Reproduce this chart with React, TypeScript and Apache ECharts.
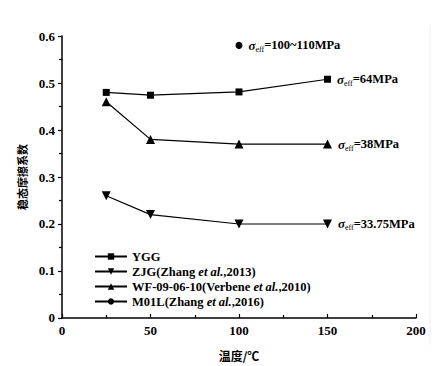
import React, { useEffect, useRef } from "react";
import * as echarts from "echarts";

const temps = [25, 50, 100, 150];
const ygg = [0.48, 0.474, 0.481, 0.508];
const zjg = [0.26, 0.22, 0.2, 0.2];
const wf = [0.46, 0.38, 0.37, 0.37];
const m01lTemp = [100];
const m01l = [0.58];

const seriesNames = [
  "YGG",
  "ZJG(Zhang et al.,2013)",
  "WF-09-06-10(Verbene et al.,2010)",
  "M01L(Zhang et al.,2016)",
];
const stressLabels = ["=64MPa", "=33.75MPa", "=38MPa", "=100~110MPa"];
const xTicks = [0, 50, 100, 150, 200];
const yTicks = [0, 0.1, 0.2, 0.3, 0.4, 0.5, 0.6];

const serif = "'Liberation Serif', 'DejaVu Serif', serif";
const cjk = "'Noto Sans CJK SC', sans-serif";

const rich = {
  s: { fontFamily: serif, fontStyle: "italic", fontWeight: "bold", fontSize: 13, color: "#000", lineHeight: 16 },
  sub: { fontFamily: serif, fontSize: 8, color: "#000", padding: [7, 0, 0, 0], lineHeight: 16, verticalAlign: "bottom" },
  t: { fontFamily: serif, fontWeight: "bold", fontSize: 12.5, color: "#000", lineHeight: 16 },
  n: { fontFamily: serif, fontWeight: "bold", fontSize: 12.5, color: "#000", lineHeight: 14 },
  i: { fontFamily: serif, fontWeight: "bold", fontStyle: "italic", fontSize: 12.5, color: "#000", lineHeight: 14 },
};

function stressLabel(txt: string) {
  return "{s|σ}{sub|eff}{t|" + txt + "}";
}

function buildData(xs: number[], ys: number[], label: string) {
  return xs.map((x, i) => {
    const item: any = { value: [x, ys[i]] };
    if (i === xs.length - 1) {
      item.label = {
        show: true,
        position: "right",
        distance: 6,
        formatter: stressLabel(label),
        rich,
      };
    }
    return item;
  });
}

export default function App() {
  const ref = useRef<HTMLDivElement>(null);
  useEffect(() => {
    if (!ref.current) return;
    const chart = echarts.init(ref.current, null, { renderer: "svg" });
    const lineStyle = { color: "#000", width: 1.2 };
    const itemStyle = { color: "#000" };
    chart.setOption({
      animation: false,
      backgroundColor: "#fff",
      grid: { left: 62, right: 28, top: 36, bottom: 41 },
      legend: {
        orient: "vertical",
        left: 94,
        top: 250,
        itemWidth: 32,
        itemHeight: 8,
        itemGap: 2,
        padding: 0,
        data: seriesNames,
        textStyle: { fontFamily: serif, fontWeight: "bold", fontSize: 12.5, color: "#000", rich },
        formatter: (name: string) => {
          if (name.indexOf("et al.") >= 0) {
            const parts = name.split("et al.");
            return "{n|" + parts[0] + "}{i|et al.}{n|" + parts[1] + "}";
          }
          return "{n|" + name + "}";
        },
      },
      xAxis: {
        type: "value",
        min: xTicks[0],
        max: xTicks[xTicks.length - 1],
        interval: 50,
        name: "温度/℃",
        nameLocation: "middle",
        nameGap: 31,
        nameTextStyle: { fontFamily: cjk, fontSize: 12, fontWeight: "bold", color: "#000" },
        axisLine: { lineStyle: { color: "#000", width: 1.5 } },
        axisTick: { inside: true, length: 4, lineStyle: { color: "#000", width: 1.2 } },
        minorTick: { show: true, splitNumber: 2, length: 3, lineStyle: { color: "#000", width: 1.2 } },
        axisLabel: { fontFamily: serif, fontWeight: "bold", fontSize: 13, color: "#000", margin: 6 },
        splitLine: { show: false },
      },
      yAxis: {
        type: "value",
        min: yTicks[0],
        max: yTicks[yTicks.length - 1],
        interval: 0.1,
        name: "稳态摩擦系数",
        nameLocation: "middle",
        nameRotate: 90,
        nameGap: 33,
        nameTextStyle: { fontFamily: cjk, fontSize: 11, fontWeight: "bold", color: "#000" },
        axisLine: { show: true, lineStyle: { color: "#000", width: 1.5 } },
        axisTick: { show: true, inside: false, length: 4, lineStyle: { color: "#000", width: 1.2 } },
        minorTick: { show: true, splitNumber: 2, length: 3, lineStyle: { color: "#000", width: 1.2 } },
        axisLabel: { fontFamily: serif, fontWeight: "bold", fontSize: 13, color: "#000", margin: 7 },
        splitLine: { show: false },
      },
      series: [
        {
          name: seriesNames[0],
          type: "line",
          symbol: "rect",
          symbolSize: 7,
          lineStyle,
          itemStyle,
          data: buildData(temps, ygg, stressLabels[0]),
        },
        {
          name: seriesNames[1],
          type: "line",
          symbol: "triangle",
          symbolRotate: 180,
          symbolSize: 9,
          lineStyle,
          itemStyle,
          data: buildData(temps, zjg, stressLabels[1]),
        },
        {
          name: seriesNames[2],
          type: "line",
          symbol: "triangle",
          symbolSize: 9,
          lineStyle,
          itemStyle,
          data: buildData(temps, wf, stressLabels[2]),
        },
        {
          name: seriesNames[3],
          type: "line",
          symbol: "circle",
          symbolSize: 7,
          lineStyle,
          itemStyle,
          data: buildData(m01lTemp, m01l, stressLabels[3]),
        },
      ],
      graphic: [
        {
          type: "line",
          shape: { x1: 430, y1: 25, x2: 430, y2: 345 },
          style: { stroke: "#eeeeee", lineWidth: 1 },
        },
      ],
    });
    return () => chart.dispose();
  }, []);
  return (
    <div
      ref={ref}
      style={{ position: "fixed", left: 0, top: 0, width: 444, height: 366 }}
    />
  );
}
